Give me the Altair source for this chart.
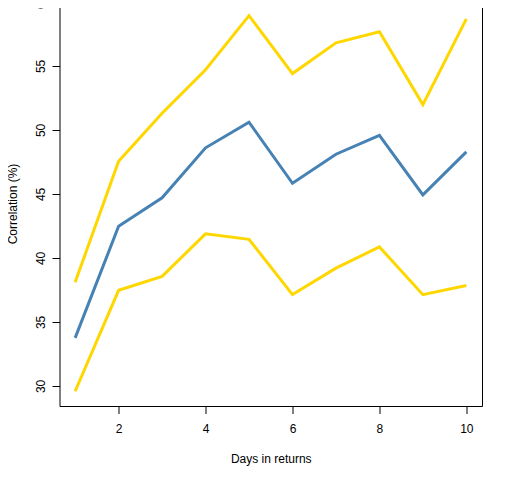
import altair as alt
import pandas as pd

days = [1, 2, 3, 4, 5, 6, 7, 8, 9, 10]
upper = [38.1, 47.55, 51.3, 54.7, 58.93, 54.4, 56.8, 57.66, 51.98, 58.67]
middle = [33.75, 42.47, 44.7, 48.6, 50.6, 45.83, 48.1, 49.58, 44.92, 48.28]
lower = [29.58, 37.47, 38.56, 41.88, 41.45, 37.13, 39.2, 40.86, 37.13, 37.84]
x_ticks = [2, 4, 6, 8, 10]
y_ticks = [30, 35, 40, 45, 50, 55, 60]

rows = []
for name, vals in [("upper", upper), ("middle", middle), ("lower", lower)]:
    for d, v in zip(days, vals):
        rows.append({"days": d, "corr": v, "series": name})
df = pd.DataFrame(rows)

font = "Liberation Sans"

chart = alt.Chart(df).mark_line(strokeWidth=3, clip=True).encode(
    x=alt.X("days:Q",
            scale=alt.Scale(domain=[0.64, 10.36], nice=False, zero=False),
            axis=alt.Axis(values=x_ticks, title="Days in returns", grid=False,
                          domain=False, tickSize=7.5, tickColor="black", tickWidth=1,
                          labelFont=font, labelFontSize=12, labelColor="black",
                          labelBaseline="middle", labelPadding=15, labelFlush=False,
                          titleFont=font, titleFontSize=12, titleFontWeight="normal",
                          titleColor="black", titleBaseline="middle", titleY=52)),
    y=alt.Y("corr:Q",
            scale=alt.Scale(domain=[28.43, 60.07], nice=False, zero=False),
            axis=alt.Axis(values=y_ticks, title="Correlation (%)", grid=False,
                          domain=False, tickSize=7.5, tickColor="black", tickWidth=1,
                          labelFont=font, labelFontSize=12, labelColor="black",
                          labelAngle=270, labelAlign="center", labelBaseline="middle",
                          labelPadding=12, labelFlush=False, labelOverlap=False,
                          titleFont=font, titleFontSize=12, titleFontWeight="normal",
                          titleColor="black", titlePadding=15, titleLimit=300)),
    color=alt.Color("series:N",
                    scale=alt.Scale(domain=["upper", "middle", "lower"],
                                    range=["#FFD700", "#4682B4", "#FFD700"]),
                    legend=None),
    detail="series:N",
).properties(
    width=422.5,
    height=405,
    background="white",
    autosize=alt.AutoSizeParams(type="none"),
    padding={"left": 51.5, "top": -7, "right": 22, "bottom": 66},
).configure_view(
    stroke="black", strokeWidth=1
)

chart.save("out.html", embed_options={"renderer": "svg", "actions": False})
